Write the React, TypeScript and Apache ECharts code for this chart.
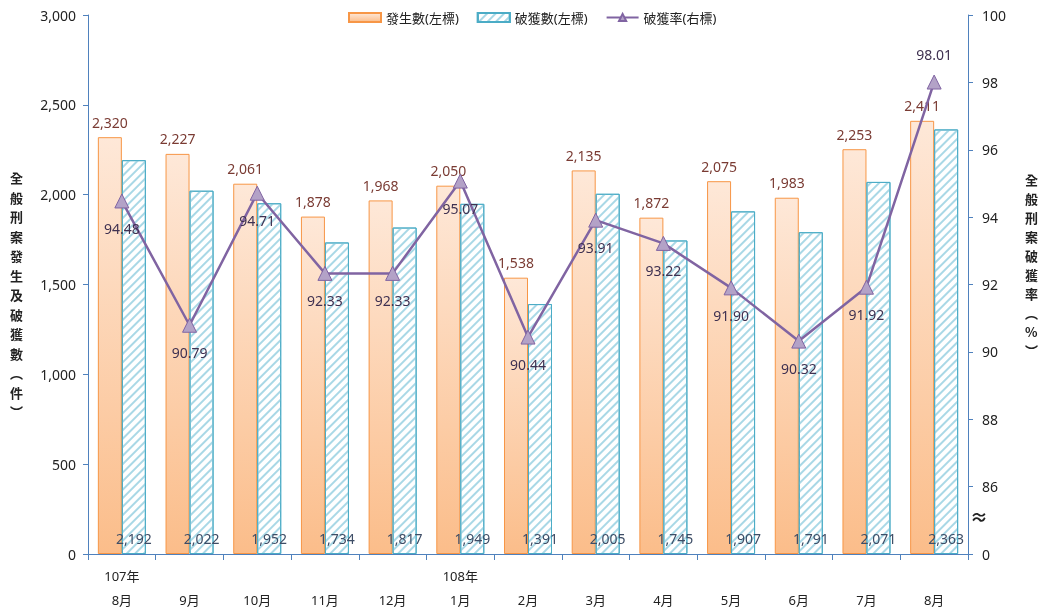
import React, { useEffect, useRef } from "react";
import * as echarts from "echarts";

const yearLabels = ["107年", "", "", "", "", "108年", "", "", "", "", "", "", ""];
const months = ["8月", "9月", "10月", "11月", "12月", "1月", "2月", "3月", "4月", "5月", "6月", "7月", "8月"];
const occurred = [2320, 2227, 2061, 1878, 1968, 2050, 1538, 2135, 1872, 2075, 1983, 2253, 2411];
const solved = [2192, 2022, 1952, 1734, 1817, 1949, 1391, 2005, 1745, 1907, 1791, 2071, 2363];
const rate = [94.48, 90.79, 94.71, 92.33, 92.33, 95.07, 90.44, 93.91, 93.22, 91.9, 90.32, 91.92, 98.01];
const rateLabelAbove = [false, false, false, false, false, false, false, false, false, false, false, false, true];

const FONT = "'Noto Sans', 'Noto Sans CJK TC', sans-serif";

export default function App() {
  const ref = useRef<HTMLDivElement>(null);
  useEffect(() => {
    const chart = echarts.init(ref.current!, undefined, { renderer: "svg" });
    const categories = months.map((m, i) => yearLabels[i] + "\n" + m);
    const fmt = (v: number) => v.toLocaleString("en-US");
    chart.setOption({
      animation: false,
      textStyle: { fontFamily: FONT },
      legend: {
        top: 6,
        left: 343,
        itemWidth: 32,
        itemHeight: 9,
        itemGap: 18,
        textStyle: { fontFamily: FONT, fontSize: 13, color: "#222" },
        data: [
          { name: "發生數(左標)", icon: "rect" },
          { name: "破獲數(左標)", icon: "rect" },
          "破獲率(右標)",
        ],
      },
      grid: { left: 88, right: 72, top: 15, bottom: 58 },
      xAxis: {
        type: "category",
        data: categories,
        axisLine: { lineStyle: { color: "#4f81bd", width: 1 } },
        axisTick: { show: true, length: 6, lineStyle: { color: "#4f81bd" } },
        axisLabel: {
          color: "#222",
          fontSize: 13,
          lineHeight: 24,
          margin: 10,
          interval: 0,
          fontFamily: FONT,
        },
      },
      yAxis: [
        {
          type: "value",
          min: 0,
          max: 3000,
          interval: 500,
          axisLine: { show: true, lineStyle: { color: "#4f81bd" } },
          axisTick: { show: true, length: 5, lineStyle: { color: "#4f81bd" } },
          splitLine: { show: false },
          axisLabel: { color: "#222", fontSize: 14, margin: 12, formatter: (v: number) => fmt(v), fontFamily: FONT },
        },
        {
          type: "value",
          min: 84,
          max: 100,
          interval: 2,
          axisLine: { show: true, lineStyle: { color: "#4f81bd" } },
          axisTick: { show: true, length: 5, lineStyle: { color: "#4f81bd" } },
          splitLine: { show: false },
          axisLabel: {
            color: "#222",
            fontSize: 14,
            margin: 14,
            formatter: (v: number) => (v === 84 ? "0" : String(v)),
            fontFamily: FONT,
          },
        },
      ],
      series: [
        {
          name: "發生數(左標)",
          type: "bar",
          data: occurred,
          barWidth: 24,
          barGap: "0%",
          itemStyle: {
            color: new echarts.graphic.LinearGradient(0, 0, 0, 1, [
              { offset: 0, color: "#fee8d8" },
              { offset: 1, color: "#fbbd8a" },
            ]),
            borderColor: "#f79646",
            borderWidth: 1,
          },
          label: {
            show: true,
            position: "top",
            distance: 8,
            color: "#7a3b33",
            fontSize: 14,
            fontFamily: FONT,
            formatter: (p: any) => fmt(p.value),
          },
        },
        {
          name: "破獲數(左標)",
          type: "bar",
          data: solved,
          barWidth: 24,
          itemStyle: {
            color: "#ffffff",
            borderColor: "#4bacc6",
            borderWidth: 1,
            decal: {
              symbol: "rect",
              symbolSize: 1,
              color: "#a9d8e6",
              dashArrayX: [1, 0],
              dashArrayY: [2, 4],
              rotation: -Math.PI / 4,
            },
          },
          label: {
            show: true,
            position: "insideBottom",
            distance: 9,
            color: "#3d4d66",
            fontSize: 14,
            fontFamily: FONT,
            formatter: (p: any) => fmt(p.value),
          },
        },
        {
          name: "破獲率(右標)",
          type: "line",
          yAxisIndex: 1,
          data: rate.map((v, i) => ({
            value: v,
            label: { position: rateLabelAbove[i] ? "top" : "bottom" },
          })),
          symbol: "triangle",
          symbolSize: 14,
          lineStyle: { color: "#8064a2", width: 2.5 },
          itemStyle: { color: "#b3a2c7", borderColor: "#8064a2", borderWidth: 1 },
          label: {
            show: true,
            distance: 13,
            color: "#3f3151",
            fontSize: 14,
            fontFamily: FONT,
            formatter: (p: any) => p.value.toFixed(2),
          },
          z: 5,
        },
      ],
      graphic: [
        {
          type: "text",
          left: 10,
          top: 168,
          style: {
            text: "全\n般\n刑\n案\n發\n生\n及\n破\n獲\n數\n︵\n件\n︶",
            fontSize: 13,
            fontWeight: "bold",
            lineHeight: 19.5,
            fill: "#222",
            fontFamily: "'Noto Sans CJK TC', sans-serif",
          },
        },
        {
          type: "text",
          left: 1025,
          top: 170,
          style: {
            text: "全\n般\n刑\n案\n破\n獲\n率\n︵\n%\n︶",
            fontSize: 13,
            fontWeight: "bold",
            lineHeight: 19,
            fill: "#222",
            align: "center",
            fontFamily: "'Noto Sans CJK TC', sans-serif",
          },
        },
        {
          type: "text",
          left: 970,
          top: 508,
          style: { text: "≈", fontSize: 18, fontWeight: "bold", fill: "#222", fontFamily: FONT },
        },
      ],
    });
    return () => chart.dispose();
  }, []);
  return <div ref={ref} style={{ width: 1040, height: 612, position: "fixed", left: 0, top: 0 }} />;
}
